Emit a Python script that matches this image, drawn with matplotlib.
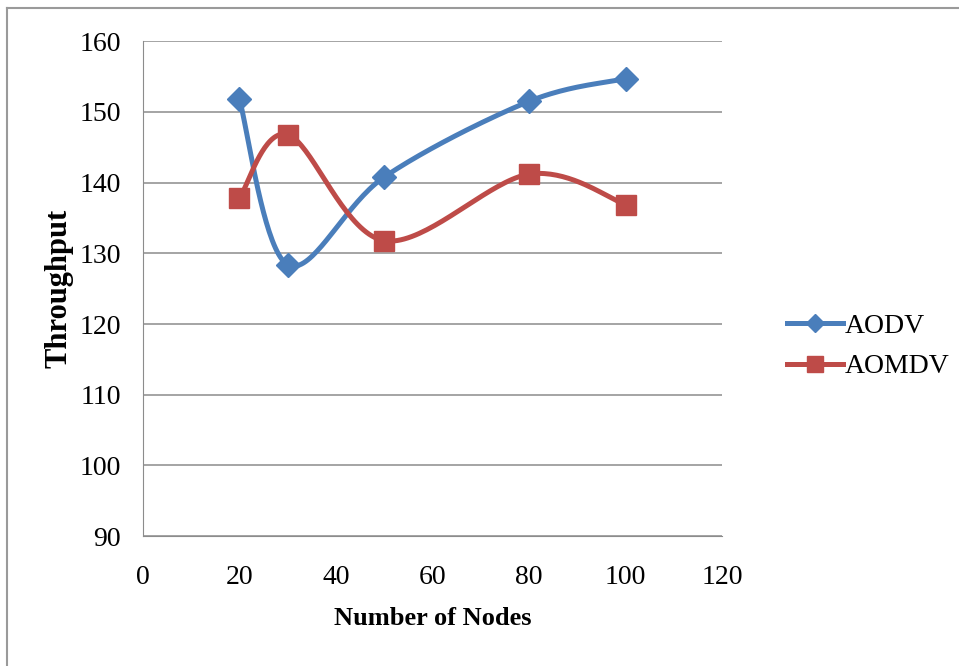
import numpy as np
import matplotlib
matplotlib.use('Agg')
import matplotlib.pyplot as plt
from matplotlib.lines import Line2D

nodes = [20, 30, 50, 80, 100]
aodv = [151.8, 128.4, 140.8, 151.5, 154.7]
aomdv = [137.8, 146.8, 131.8, 141.2, 136.9]
yticks = [90, 100, 110, 120, 130, 140, 150, 160]
xticks = [0, 20, 40, 60, 80, 100, 120]

blue = '#4a7ebb'
red = '#be4b48'
grid_col = '#8c8c8c'


def smooth(xs, ys, n=40):
    # excel-like smoothed line: catmull-rom as cubic bezier segments
    xs = np.asarray(xs, float)
    ys = np.asarray(ys, float)
    px = np.r_[xs[0], xs, xs[-1]]
    py = np.r_[ys[0], ys, ys[-1]]
    t = np.linspace(0, 1, n)
    outx, outy = [], []
    for i in range(1, len(px) - 2):
        p0 = np.array([px[i], py[i]])
        p3 = np.array([px[i + 1], py[i + 1]])
        c1 = p0 + (p3 - np.array([px[i - 1], py[i - 1]])) / 6
        c2 = p3 - (np.array([px[i + 2], py[i + 2]]) - p0) / 6
        b = ((1 - t) ** 3)[:, None] * p0 + (3 * (1 - t) ** 2 * t)[:, None] * c1 \
            + (3 * (1 - t) * t ** 2)[:, None] * c2 + (t ** 3)[:, None] * p3
        outx.extend(b[:, 0])
        outy.extend(b[:, 1])
    return outx, outy


plt.rcParams['font.family'] = ['Liberation Serif', 'DejaVu Serif']

fig = plt.figure(figsize=(9.59, 6.66), dpi=100)
ax = fig.add_axes([0.149, 0.195, 0.604, 0.743])

for yv in yticks:
    ax.axhline(yv, color=grid_col, lw=1.1, zorder=1)

sx, sy = smooth(nodes, aodv)
ax.plot(sx, sy, color=blue, lw=3.6, zorder=3, solid_capstyle='round')
ax.plot(nodes, aodv, ls='none', marker='D', ms=12.5, color=blue, zorder=4)
sx, sy = smooth(nodes, aomdv)
ax.plot(sx, sy, color=red, lw=3.6, zorder=3, solid_capstyle='round')
ax.plot(nodes, aomdv, ls='none', marker='s', ms=15, color=red, zorder=4)

ax.set_xlim(0, 120)
ax.set_ylim(90, 160)
ax.set_xticks(xticks)
ax.set_yticks(yticks)
ax.tick_params(length=0, labelsize=20)
ax.tick_params(axis='x', pad=21)
ax.tick_params(axis='y', pad=16)
for s in ['top', 'right']:
    ax.spines[s].set_visible(False)
ax.spines['left'].set_color(grid_col)
ax.spines['bottom'].set_color(grid_col)

ax.set_xlabel('Number of Nodes', fontsize=19, fontweight='bold', labelpad=12)
ax.set_ylabel('Throughput', fontsize=22, fontweight='bold', labelpad=4)

handles = [Line2D([], [], color=blue, lw=3.6, marker='D', ms=9),
           Line2D([], [], color=red, lw=3.6, marker='s', ms=12)]
fig.legend(handles, ['AODV', 'AOMDV'], loc='center left',
           bbox_to_anchor=(0.795, 0.48), frameon=False, fontsize=20,
           handlelength=2.0, handletextpad=0.05, labelspacing=0.55)

# chart area border (top and left visible)
fig.add_artist(Line2D([0.007, 1.0], [0.988, 0.988], color='#9a9a9a', lw=1.5))
fig.add_artist(Line2D([0.007, 0.007], [0.0, 0.988], color='#9a9a9a', lw=1.5))

fig.savefig('out.png', dpi=100)
